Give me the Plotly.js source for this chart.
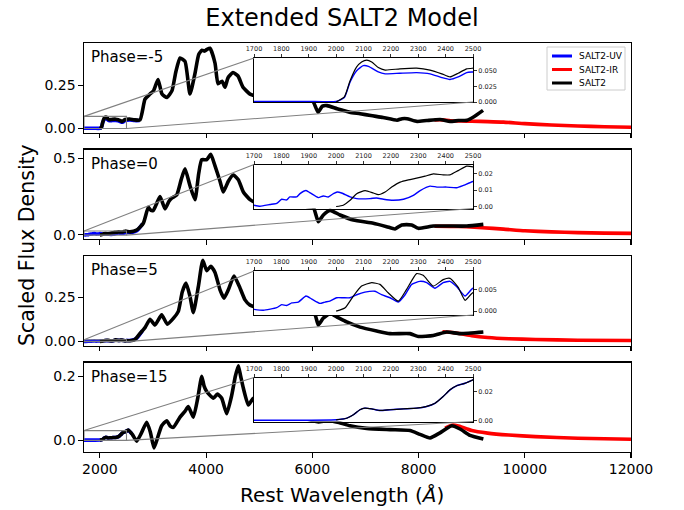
<!DOCTYPE html>
<html><head><meta charset="utf-8">
<script src="https://cdn.plot.ly/plotly-3.0.1.min.js"></script>
<style>html,body{margin:0;padding:0;background:#fff}#chart{width:684px;height:510px}</style>
</head><body><div id="chart"></div>
<script>
// ---------------- data (wavelength in Angstrom, scaled flux) ----------------
const phases = ['-5', '0', '5', '15'];
const seriesNames = ['SALT2-UV', 'SALT2-IR', 'SALT2'];

const salt2_m5 = [[2000,0],[2030,0.008],[2051,0.034],[2075,0.056],[2093,0.064],[2112,0.067],[2130,0.064],[2154,0.055],[2179,0.051],[2233,0.053],[2294,0.054],[2343,0.051],[2386,0.045],[2416,0.040],[2446,0.046],[2477,0.053],[2500,0.054],[2560,0.055],[2650,0.05],[2755,0.05],[2849,0.17],[2943,0.20],[3010,0.22],[3094,0.285],[3169,0.20],[3263,0.18],[3357,0.22],[3430,0.33],[3508,0.41],[3602,0.39],[3696,0.20],[3790,0.32],[3860,0.43],[3922,0.455],[3970,0.45],[4016,0.46],[4073,0.467],[4167,0.38],[4224,0.26],[4299,0.275],[4355,0.24],[4412,0.295],[4506,0.325],[4600,0.305],[4694,0.24],[4826,0.20],[4950,0.19],[5100,0.2],[5300,0.21],[5500,0.2],[5700,0.185],[5900,0.17],[6013,0.157],[6107,0.095],[6190,0.13],[6276,0.133],[6465,0.115],[6700,0.095],[6898,0.086],[7100,0.075],[7331,0.064],[7595,0.048],[7689,0.057],[7783,0.057],[7971,0.041],[8150,0.046],[8404,0.052],[8593,0.041],[8750,0.046],[8913,0.048],[9050,0.07],[9214,0.105]];
const salt2_0 = [[2000,0],[2026,0.0008],[2051,0.0038],[2075,0.0078],[2106,0.0097],[2136,0.0082],[2154,0.0072],[2179,0.0088],[2203,0.0118],[2234,0.0148],[2264,0.0162],[2294,0.0172],[2325,0.0184],[2355,0.0198],[2391,0.0192],[2416,0.0192],[2446,0.0218],[2477,0.0245],[2500,0.024],[2566,0.02],[2692,0.032],[2817,0.076],[2911,0.18],[2960,0.16],[3005,0.16],[3050,0.19],[3131,0.25],[3225,0.17],[3300,0.22],[3352,0.24],[3446,0.26],[3530,0.36],[3602,0.43],[3696,0.32],[3790,0.23],[3860,0.40],[3917,0.49],[4011,0.49],[4087,0.525],[4167,0.45],[4261,0.35],[4324,0.28],[4418,0.35],[4512,0.39],[4606,0.36],[4700,0.28],[4826,0.23],[4950,0.21],[5100,0.22],[5300,0.23],[5500,0.215],[5700,0.2],[5900,0.185],[6018,0.18],[6112,0.086],[6207,0.13],[6333,0.16],[6521,0.13],[6772,0.097],[7148,0.076],[7399,0.054],[7556,0.039],[7682,0.065],[7870,0.065],[7996,0.043],[8278,0.058],[8593,0.058],[8907,0.058],[9220,0.069]];
const salt2_5 = [[2000,0],[2033,0.0008],[2063,0.0035],[2093,0.0058],[2130,0.0066],[2160,0.0062],[2191,0.0042],[2227,0.0023],[2257,0.005],[2294,0.0087],[2318,0.0083],[2355,0.0058],[2391,0.0073],[2416,0.0076],[2446,0.0055],[2471,0.0025],[2500,0.0043],[2566,0.004],[2660,0.011],[2755,0.045],[2849,0.078],[2943,0.125],[3037,0.093],[3163,0.15],[3269,0.098],[3382,0.13],[3476,0.17],[3550,0.28],[3621,0.33],[3696,0.255],[3759,0.163],[3853,0.31],[3936,0.458],[4011,0.40],[4087,0.425],[4167,0.39],[4261,0.292],[4336,0.245],[4418,0.292],[4524,0.37],[4624,0.312],[4732,0.235],[4826,0.205],[4950,0.195],[5100,0.2],[5300,0.205],[5500,0.195],[5700,0.18],[5900,0.165],[6050,0.15],[6112,0.093],[6207,0.132],[6333,0.158],[6458,0.139],[6646,0.11],[6898,0.081],[7211,0.059],[7462,0.044],[7839,0.044],[7996,0.028],[8278,0.034],[8529,0.053],[8781,0.044],[9220,0.053]];
const salt2_15 = [[2000,0.0005],[2039,0.0016],[2063,0.004],[2087,0.0075],[2105,0.0086],[2130,0.0081],[2160,0.007],[2197,0.0075],[2246,0.0081],[2294,0.0086],[2331,0.0098],[2361,0.012],[2391,0.0167],[2416,0.0214],[2440,0.0242],[2471,0.026],[2500,0.0284],[2535,0.032],[2610,0.018],[2692,-0.003],[2780,0.022],[2880,0.056],[2950,0.025],[3018,-0.024],[3090,0.01],[3163,0.045],[3257,0.061],[3320,0.045],[3382,0.04],[3508,0.072],[3600,0.09],[3664,0.105],[3759,0.072],[3840,0.13],[3917,0.2],[3960,0.17],[4011,0.152],[4136,0.131],[4211,0.144],[4293,0.131],[4387,0.083],[4481,0.14],[4550,0.2],[4606,0.233],[4650,0.2],[4700,0.163],[4795,0.11],[4889,0.131],[5000,0.11],[5200,0.1],[5400,0.09],[5600,0.08],[5800,0.07],[5950,0.064],[6112,0.057],[6300,0.062],[6500,0.055],[6709,0.045],[7024,0.037],[7462,0.033],[7839,0.03],[8027,0.018],[8216,0.007],[8404,0.023],[8624,0.045],[8781,0.035],[8969,0.015],[9220,0.004]];

const uv_m5 = [[1700,0.001],[1800,0.001],[1900,0.001],[2000,0.001],[2030,0.007],[2051,0.032],[2075,0.05],[2099,0.058],[2118,0.057],[2154,0.048],[2179,0.045],[2233,0.046],[2294,0.047],[2343,0.045],[2386,0.039],[2416,0.036],[2446,0.040],[2477,0.047],[2500,0.048],[2560,0.05],[2650,0.046],[2750,0.046]];
const uv_0 = [[1700,0.0008],[1722,0.0002],[1758,0.0012],[1783,0.0019],[1801,0.0044],[1819,0.004],[1831,0.0058],[1856,0.0058],[1868,0.0078],[1890,0.0097],[1905,0.0083],[1935,0.0054],[1953,0.0064],[1971,0.0058],[1990,0.0078],[2004,0.0088],[2020,0.0082],[2051,0.0058],[2075,0.0048],[2124,0.0048],[2148,0.0052],[2173,0.0044],[2209,0.0038],[2246,0.0044],[2282,0.0068],[2307,0.0097],[2343,0.0124],[2368,0.0118],[2404,0.0118],[2440,0.0114],[2465,0.0128],[2500,0.0152],[2600,0.016],[2700,0.028],[2800,0.07]];
const uv_5 = [[1700,0.0004],[1734,0.0002],[1783,0.0008],[1801,0.0015],[1819,0.0013],[1838,0.0019],[1862,0.0021],[1890,0.0035],[1911,0.0028],[1941,0.0018],[1959,0.0021],[1977,0.0023],[2002,0.0031],[2026,0.0031],[2051,0.0031],[2075,0.0038],[2105,0.0044],[2142,0.0046],[2166,0.0038],[2197,0.0031],[2227,0.0021],[2252,0.0038],[2276,0.0062],[2306,0.0069],[2331,0.0066],[2361,0.0053],[2391,0.0066],[2416,0.0069],[2440,0.0057],[2471,0.0035],[2500,0.0053],[2600,0.006],[2700,0.02],[2800,0.06]];
const uv_15 = [[1700,0.0002],[1800,0.0002],[1900,0.0002],[2000,0.0005],[2039,0.0016],[2063,0.004],[2087,0.0075],[2105,0.0086],[2130,0.0081],[2160,0.007],[2197,0.0075],[2246,0.0081],[2294,0.0086],[2331,0.0098],[2361,0.012],[2391,0.0167],[2416,0.0214],[2440,0.0242],[2471,0.026],[2500,0.0284],[2535,0.031],[2600,0.02]];

const ir_m5 = [[8300,0.05],[8450,0.05],[8600,0.045],[8800,0.043],[9000,0.042],[9300,0.04],[9600,0.037],[10000,0.028],[10500,0.02],[11000,0.014],[11500,0.01],[12000,0.007]];
const ir_0 = [[8300,0.057],[8600,0.056],[8900,0.053],[9200,0.047],[9600,0.038],[10000,0.027],[10500,0.02],[11000,0.015],[11500,0.012],[12000,0.01]];
const ir_5 = [[8450,0.055],[8600,0.052],[8800,0.043],[9000,0.032],[9300,0.022],[9700,0.015],[10200,0.011],[11000,0.007],[12000,0.005]];
const ir_15 = [[8500,0.038],[8600,0.045],[8650,0.047],[8750,0.044],[8900,0.036],[9000,0.03],[9300,0.022],[9700,0.016],[10200,0.011],[11000,0.006],[12000,0.003]];

const xTickVals = [2000, 4000, 6000, 8000, 10000, 12000];
const insetXTickVals = [1700, 1800, 1900, 2000, 2100, 2200, 2300, 2400, 2500];
const mainYTicks = [[0, 0.25], [0, 0.5], [0, 0.25], [0, 0.2]];
const mainYFormats = ['.2f', '.1f', '.2f', '.1f'];
const insetYTicks = [[0, 0.025, 0.05], [0, 0.01, 0.02], [0, 0.005], [0, 0.02]];
const insetYFormats = ['.3f', '.2f', '.3f', '.2f'];

// axis limits
const mainXRange = [1700, 12000];
const insetXRange = [1700, 2500];
const mainYRanges = [[-0.0235, 0.497], [-0.0265, 0.5565], [-0.023, 0.483], [-0.037, 0.243]];
const insetYRanges = [[0, 0.0703], [-0.0012, 0.0255], [-0.0009, 0.0093], [-0.0007, 0.030]];

// ---------------- layout geometry ----------------
const W = 684, H = 510, ML = 84, MR = 53, MT = 43, MB = 58;
const PW = W - ML - MR, PH = H - MT - MB;
const panelH = 89.5, pitch = 106.5;
const FONT = 'DejaVu Sans, sans-serif';
const pxX = px => (px - ML) / PW;
const pxY = py => (H - MB - py) / PH;
const insetXDom = [pxX(254), pxX(473)];

const salt2 = [salt2_m5, salt2_0, salt2_5, salt2_15];
const uv = [uv_m5, uv_0, uv_5, uv_15];
const ir = [ir_m5, ir_0, ir_5, ir_15];
const colors = ['#0000ff', '#ff0000', '#000000'];

const traces = [];
const layout = {
  width: W, height: H,
  margin: {l: ML, r: MR, t: MT, b: MB, pad: 0},
  paper_bgcolor: '#ffffff', plot_bgcolor: '#ffffff',
  showlegend: false,
  font: {family: FONT, color: '#000'},
  title: {text: 'Extended SALT2 Model', x: 0.5, xref: 'container', xanchor: 'center',
          y: 1 - 18 / H, yref: 'container', yanchor: 'middle', font: {family: FONT, size: 24, color: '#000'}},
  shapes: [], annotations: []
};

const axisId = n => (n === 1 ? '' : String(n));

for (let i = 0; i < 4; i++) {
  const top = MT + i * pitch, bot = top + panelH;
  const mDom = [pxY(bot), pxY(top)];
  const iDom = [pxY(top + 59), pxY(top + 15)];
  const m = i + 1, n = i + 5;
  const xa = 'x' + axisId(m), ya = 'y' + axisId(m), xi = 'x' + n, yi = 'y' + n;

  layout['xaxis' + axisId(m)] = {
    domain: [0, 1], anchor: ya, range: mainXRange, tickvals: xTickVals, tickformat: 'd',
    showticklabels: i === 3, ticks: 'outside', ticklen: 4.5, tickwidth: 1.1, tickcolor: '#000',
    showline: true, mirror: true, linecolor: '#000', linewidth: 1.1,
    showgrid: false, zeroline: false, tickfont: {family: FONT, size: 14, color: '#000'}
  };
  layout['yaxis' + axisId(m)] = {
    domain: mDom, anchor: xa, range: mainYRanges[i], tickvals: mainYTicks[i], tickformat: mainYFormats[i],
    ticks: 'outside', ticklen: 4.5, tickwidth: 1.1, tickcolor: '#000',
    showline: true, mirror: true, linecolor: '#000', linewidth: 1.1,
    showgrid: false, zeroline: false, tickfont: {family: FONT, size: 14, color: '#000'}
  };
  layout['xaxis' + n] = {
    domain: insetXDom, anchor: yi, side: 'top', range: insetXRange, tickvals: insetXTickVals, tickformat: 'd',
    ticks: 'outside', ticklen: 3, tickwidth: 0.8, tickcolor: '#000',
    showline: true, mirror: true, linecolor: '#000', linewidth: 1,
    showgrid: false, zeroline: false, tickfont: {family: FONT, size: 6.5, color: '#222'}
  };
  layout['yaxis' + n] = {
    domain: iDom, anchor: xi, side: 'right', range: insetYRanges[i], tickvals: insetYTicks[i], tickformat: insetYFormats[i],
    ticks: 'outside', ticklen: 3, tickwidth: 0.8, tickcolor: '#000',
    showline: true, mirror: true, linecolor: '#000', linewidth: 1,
    showgrid: false, zeroline: false, tickfont: {family: FONT, size: 6.5, color: '#222'}
  };

  // main panel lines
  [uv[i], ir[i], salt2[i]].forEach((s, k) => traces.push({
    x: s.map(p => p[0]), y: s.map(p => p[1]), xaxis: xa, yaxis: ya, mode: 'lines', name: seriesNames[k],
    line: {color: colors[k], width: 3.6, shape: 'spline', smoothing: 0.5}, hoverinfo: 'skip'
  }));
  // inset lines
  [uv[i], salt2[i]].forEach((s, k) => traces.push({
    x: s.map(p => p[0]), y: s.map(p => p[1]), xaxis: xi, yaxis: yi, mode: 'lines', name: seriesNames[k * 2],
    line: {color: k ? '#000000' : '#0000ff', width: k ? 1.2 : 1.4, shape: 'spline', smoothing: 0.5}, hoverinfo: 'skip'
  }));

  // inset indicator rectangle + connectors
  const [y0, y1] = insetYRanges[i];
  const toPaper = (lam, v) => [
    (lam - mainXRange[0]) / (mainXRange[1] - mainXRange[0]),
    mDom[0] + (v - mainYRanges[i][0]) / (mainYRanges[i][1] - mainYRanges[i][0]) * (mDom[1] - mDom[0])
  ];
  const gray = {color: '#808080', width: 1.1};
  layout.shapes.push({type: 'rect', xref: xa, yref: ya, x0: insetXRange[0], x1: insetXRange[1], y0: y0, y1: y1, line: gray, layer: 'above'});
  const a = toPaper(insetXRange[0], y1), b = toPaper(insetXRange[1], y0);
  layout.shapes.push({type: 'line', xref: 'paper', yref: 'paper', x0: a[0], y0: a[1], x1: insetXDom[0], y1: iDom[1], line: gray});
  layout.shapes.push({type: 'line', xref: 'paper', yref: 'paper', x0: b[0], y0: b[1], x1: insetXDom[1], y1: iDom[0], line: gray});

  // phase label
  layout.annotations.push({text: 'Phase=' + phases[i], xref: 'paper', yref: 'paper', x: pxX(89), y: pxY(top + 14),
    xanchor: 'left', yanchor: 'middle', showarrow: false, font: {family: FONT, size: 15, color: '#000'}});
}

// figure-level axis labels
layout.annotations.push({text: 'Rest Wavelength (<i>Å</i>)', xref: 'paper', yref: 'paper', x: pxX(342), y: pxY(495),
  xanchor: 'center', yanchor: 'middle', showarrow: false, font: {family: FONT, size: 20, color: '#000'}});
layout.annotations.push({text: 'Scaled Flux Density', xref: 'paper', yref: 'paper', x: pxX(27), y: pxY(245), textangle: -90,
  xanchor: 'center', yanchor: 'middle', showarrow: false, font: {family: FONT, size: 20.5, color: '#000'}});

// legend (top-right of first panel)
layout.shapes.push({type: 'rect', xref: 'paper', yref: 'paper', x0: pxX(547), x1: pxX(625), y0: pxY(90), y1: pxY(47),
  line: {color: '#cccccc', width: 1}, fillcolor: 'rgba(255,255,255,0.8)'});
const legendY = [56, 69.5, 83];
seriesNames.forEach((nm, k) => {
  layout.shapes.push({type: 'line', xref: 'paper', yref: 'paper', x0: pxX(552), x1: pxX(572), y0: pxY(legendY[k]), y1: pxY(legendY[k]),
    line: {color: colors[k], width: 3}});
  layout.annotations.push({text: nm, xref: 'paper', yref: 'paper', x: pxX(577), y: pxY(legendY[k]), xanchor: 'left', yanchor: 'middle',
    showarrow: false, font: {family: FONT, size: 9, color: '#000'}});
});

Plotly.newPlot('chart', traces, layout, {staticPlot: true, displayModeBar: false});
</script></body></html>
